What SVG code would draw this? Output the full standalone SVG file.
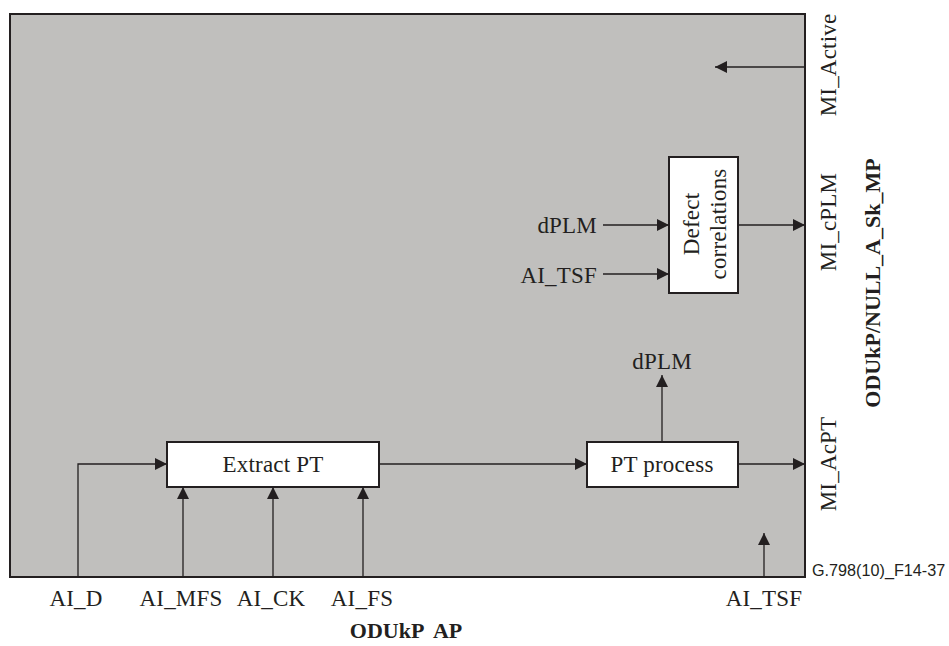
<svg xmlns="http://www.w3.org/2000/svg" width="949" height="646" viewBox="0 0 949 646">
<style>
.lbl{font-family:"Liberation Serif","Times New Roman",serif;font-size:23px;fill:#231f20;letter-spacing:0.2px}
.bold{font-family:"Liberation Serif","Times New Roman",serif;font-size:22px;font-weight:bold;fill:#231f20}
.note{font-family:"Liberation Sans",Arial,sans-serif;font-size:16.2px;fill:#231f20}
.box{fill:#ffffff;stroke:#231f20;stroke-width:2}
.con{fill:none;stroke:#231f20;stroke-width:1.3}
</style>
<defs>
<marker id="arr" viewBox="0 0 12 12" refX="12" refY="6" markerWidth="12" markerHeight="12" markerUnits="userSpaceOnUse" orient="auto">
<path d="M0,0 L12,6 L0,12 Z" fill="#231f20"/>
</marker>
</defs>
<rect id="frame" x="10" y="14" width="795" height="563" fill="#c0bfbd" stroke="#231f20" stroke-width="2"/>
<g id="defect">
<rect class="box" x="669" y="157" width="69" height="136"/>
<text class="lbl" transform="translate(699,224) rotate(-90)" text-anchor="middle">Defect</text>
<text class="lbl" transform="translate(726,224) rotate(-90)" text-anchor="middle">correlations</text>
</g>
<g id="extract">
<rect class="box" x="167" y="442" width="212" height="45"/>
<text class="lbl" x="273" y="472" text-anchor="middle">Extract PT</text>
</g>
<g id="ptprocess">
<rect class="box" x="587" y="442" width="151" height="45"/>
<text class="lbl" x="662" y="472" text-anchor="middle">PT process</text>
</g>
<g id="connectors">
<line class="con" x1="805" y1="67" x2="715" y2="67" marker-end="url(#arr)"/>
<line class="con" x1="603" y1="225" x2="669" y2="225" marker-end="url(#arr)"/>
<line class="con" x1="603" y1="274" x2="669" y2="274" marker-end="url(#arr)"/>
<line class="con" x1="738" y1="225" x2="805" y2="225" marker-end="url(#arr)"/>
<polyline class="con" points="78,577 78,464 167,464" marker-end="url(#arr)"/>
<line class="con" x1="183" y1="577" x2="183" y2="487" marker-end="url(#arr)"/>
<line class="con" x1="273" y1="577" x2="273" y2="487" marker-end="url(#arr)"/>
<line class="con" x1="363" y1="577" x2="363" y2="487" marker-end="url(#arr)"/>
<line class="con" x1="379" y1="464" x2="587" y2="464" marker-end="url(#arr)"/>
<line class="con" x1="662" y1="442" x2="662" y2="375" marker-end="url(#arr)"/>
<line class="con" x1="738" y1="464" x2="805" y2="464" marker-end="url(#arr)"/>
<line class="con" x1="764" y1="577" x2="764" y2="533" marker-end="url(#arr)"/>
</g>
<g id="labels">
<text class="lbl" x="597" y="233" text-anchor="end">dPLM</text>
<text class="lbl" x="597" y="283" text-anchor="end">AI_TSF</text>
<text class="lbl" x="662" y="369" text-anchor="middle">dPLM</text>
<text class="lbl" x="76" y="606" text-anchor="middle">AI_D</text>
<text class="lbl" x="181" y="606" text-anchor="middle">AI_MFS</text>
<text class="lbl" x="271" y="606" text-anchor="middle">AI_CK</text>
<text class="lbl" x="362" y="606" text-anchor="middle">AI_FS</text>
<text class="lbl" x="764" y="606" text-anchor="middle">AI_TSF</text>
<text class="bold" x="406" y="638" text-anchor="middle" style="white-space:pre" font-size="24">ODUkP  AP</text>
<text class="lbl" transform="translate(836,65) rotate(-90)" text-anchor="middle">MI_Active</text>
<text class="lbl" transform="translate(836,222) rotate(-90)" text-anchor="middle">MI_cPLM</text>
<text class="lbl" transform="translate(836,464) rotate(-90)" text-anchor="middle">MI_AcPT</text>
<text class="bold" transform="translate(880,283) rotate(-90)" text-anchor="middle">ODUkP/NULL_A_Sk_MP</text>
<text class="note" x="812" y="576">G.798(10)_F14-37</text>
</g>
</svg>
